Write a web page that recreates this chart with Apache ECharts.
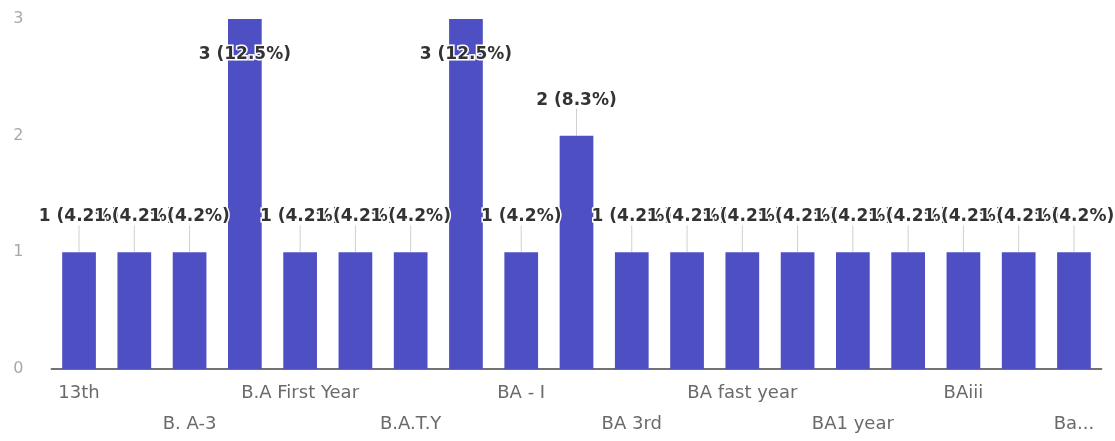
<!DOCTYPE html>
<html>
<head>
<meta charset="utf-8">
<script src="https://cdn.jsdelivr.net/npm/echarts@6/dist/echarts.min.js"></script>
<style>
html,body{margin:0;padding:0;background:#fff;}
#chart{width:1115px;height:441px;}
</style>
</head>
<body>
<div id="chart"></div>
<script>
const categories = [
  "13th", "B. A", "B. A-3", "B.A", "B.A First Year", "B.A. 3rd year", "B.A.T.Y",
  "BA", "BA - I", "BA 2nd year", "BA 3rd", "BA final", "BA fast year", "BA1",
  "BA1 year", "BAi", "BAiii", "BAiii year", "Ba final year"
];
const counts = [1, 1, 1, 3, 1, 1, 1, 3, 1, 2, 1, 1, 1, 1, 1, 1, 1, 1, 1];
const yTicks = [0, 1, 2, 3];

const total = counts.reduce((a, b) => a + b, 0);
const yMax = yTicks[yTicks.length - 1];
const labelFont = 'DejaVu Sans, Verdana, sans-serif';

const chart = echarts.init(document.getElementById('chart'), null, {renderer: 'canvas'});

const barData = counts.map(v => {
  const item = {value: v};
  if (v >= yMax) {
    item.label = {position: 'insideTop', distance: 27};
  }
  return item;
});

chart.setOption({
  animation: false,
  backgroundColor: '#ffffff',
  grid: {left: 51.4, right: 13.4, top: 19, bottom: 72, containLabel: false},
  xAxis: {
    type: 'category',
    data: categories,
    axisLine: {show: true, lineStyle: {color: '#444', width: 1.5}},
    axisTick: {show: false},
    axisLabel: {
      interval: 1,
      margin: 9,
      color: '#6a6a6a',
      fontFamily: labelFont,
      fontSize: 18,
      lineHeight: 31,
      formatter: function (value, index) {
        let v = value;
        if (index === categories.length - 1) v = value.slice(0, 2) + '...';
        return (index % 4 === 2) ? '\n' + v : v;
      }
    }
  },
  yAxis: {
    type: 'value',
    min: yTicks[0],
    max: yMax,
    interval: 1,
    axisLine: {show: false},
    axisTick: {show: false},
    splitLine: {show: false},
    axisLabel: {
      color: '#a8a8a8',
      fontFamily: labelFont,
      fontSize: 16,
      margin: 28,
      align: 'right'
    }
  },
  series: [
    {
      type: 'custom',
      z: 1,
      silent: true,
      data: counts.map((v, i) => [i, v]),
      renderItem: function (params, api) {
        const v = api.value(1);
        if (v >= yMax) return null;
        const p = api.coord([api.value(0), v]);
        return {
          type: 'line',
          shape: {x1: p[0], y1: p[1], x2: p[0], y2: p[1] - 27},
          style: {stroke: '#d0d0d0', lineWidth: 1}
        };
      }
    },
    {
      type: 'bar',
      z: 2,
      data: barData,
      barWidth: '61%',
      itemStyle: {color: '#4f4fc4'},
      label: {
        show: true,
        position: 'top',
        distance: 27,
        color: '#333333',
        fontFamily: labelFont,
        fontSize: 17,
        fontWeight: 'bold',
        textBorderColor: '#ffffff',
        textBorderWidth: 3,
        formatter: function (p) {
          const pct = (p.value / total * 100).toFixed(1);
          return p.value + ' (' + pct + '%)';
        }
      },
      labelLayout: {hideOverlap: false}
    }
  ]
});
</script>
</body>
</html>
